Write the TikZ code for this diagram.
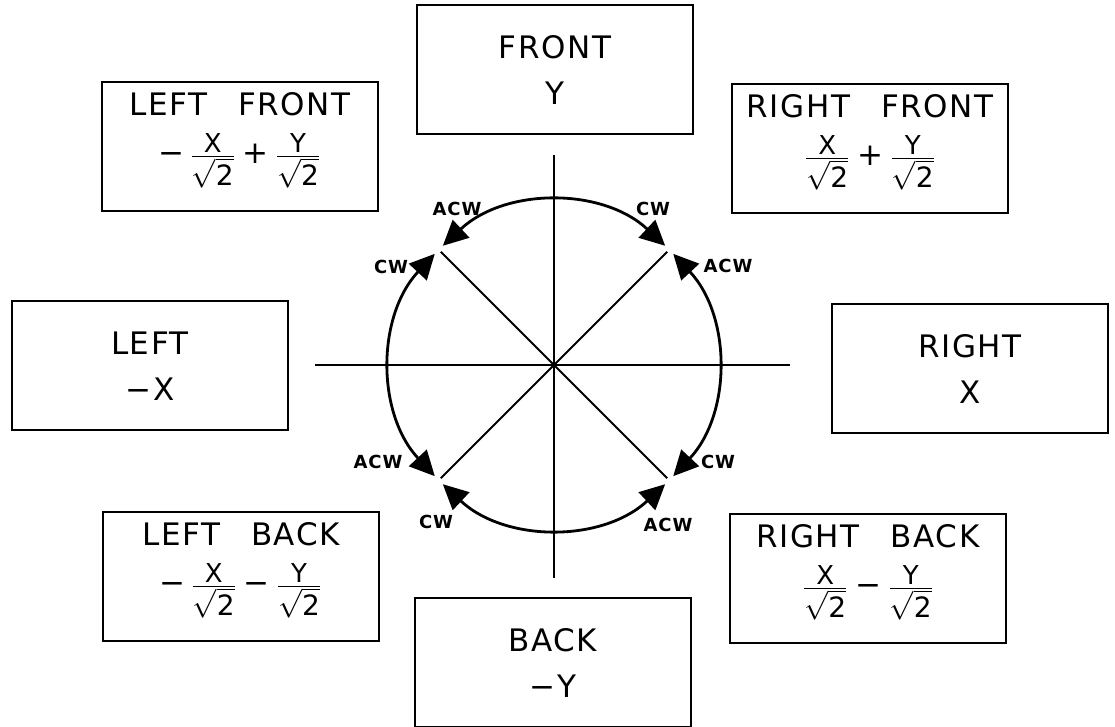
\documentclass[tikz,border=0pt]{standalone}
\usepackage{amsmath}
\usepackage{fontspec}
\setmainfont{DejaVu Sans}[LetterSpace=5]
\usetikzlibrary{arrows.meta, positioning, calc}

% X or Y over root two
\newcommand{\ovrt}[1]{\frac{\text{\fontsize{13}{13}\selectfont #1}}{\sqrt{\text{\fontsize{14}{14}\selectfont 2}}}}
\newcommand{\pls}{\mathbin{\text{+}}}
\newcommand{\mns}{\mathbin{\text{−}}}

\begin{document}
\begin{tikzpicture}[x=0.5pt, y=0.5pt]
% Define styles
\tikzstyle{dirbox} = [rectangle, draw=black, line width=1pt, minimum width=138pt, minimum height=64.5pt, align=center, font=\fontsize{15.5}{23}\selectfont]
\tikzstyle{diagbox} = [dirbox, text depth=19pt]
\tikzstyle{axis} = [line width=1pt]
\tikzstyle{turn} = [line width=1.4pt, {Triangle[length=12.5pt,width=12pt]}-{Triangle[length=12.5pt,width=12pt]}]
\tikzstyle{sense} = [font=\bfseries\fontsize{9}{10}\selectfont, inner sep=0pt]

\useasboundingbox (0,0) rectangle (1115,727);

% Centre of the circle
\coordinate (O) at (554,362);

% Direction boxes
\node (front) [dirbox] at (555,657) {FRONT\\Y};
\node (back) [dirbox] at (553,64) {BACK\\−Y};
\node (left) [dirbox] at (150,361) {LEFT\\−X};
\node (right) [dirbox] at (970,358) {RIGHT\\X};
\node (lfront) [diagbox] at (240,580) {LEFT\hspace{1em}FRONT\\[1pt]$\text{−}\,\ovrt{X}\pls\ovrt{Y}$};
\node (rfront) [diagbox] at (870,578) {RIGHT\hspace{1em}FRONT\\[1pt]$\ovrt{X}\pls\ovrt{Y}$};
\node (lback) [diagbox] at (241,150) {LEFT\hspace{1em}BACK\\[1pt]$\text{−}\,\ovrt{X}\mns\ovrt{Y}$};
\node (rback) [diagbox] at (868,148) {RIGHT\hspace{1em}BACK\\[1pt]$\ovrt{X}\mns\ovrt{Y}$};

% Axes
\coordinate (axN) at (554,572);
\coordinate (axS) at (554,149);
\coordinate (axW) at (315,362);
\coordinate (axE) at (790,362);
\draw [axis] (axN) -- (axS);
\draw [axis] (axW) -- (axE);

% Diagonals
\foreach \a in {45,135,225,315}
  \draw [axis] (O) -- ++(\a:160);

% Turning arcs
\foreach \a in {0,90,180,270}
  \draw [turn] ([shift={(\a-43:163)}]O) arc [start angle=\a-43, end angle=\a+43, radius=163];

% Sense labels
\node (acwTL) [sense] at (457,518) {ACW};
\node (cwTR) [sense] at (653,518) {CW};
\node (cwL) [sense] at (391,460) {CW};
\node (acwR) [sense] at (728,461) {ACW};
\node (acwL) [sense] at (378,265) {ACW};
\node (cwR) [sense] at (718,265) {CW};
\node (cwBL) [sense] at (436,205) {CW};
\node (acwBR) [sense] at (668,202) {ACW};

\end{tikzpicture}
\end{document}
